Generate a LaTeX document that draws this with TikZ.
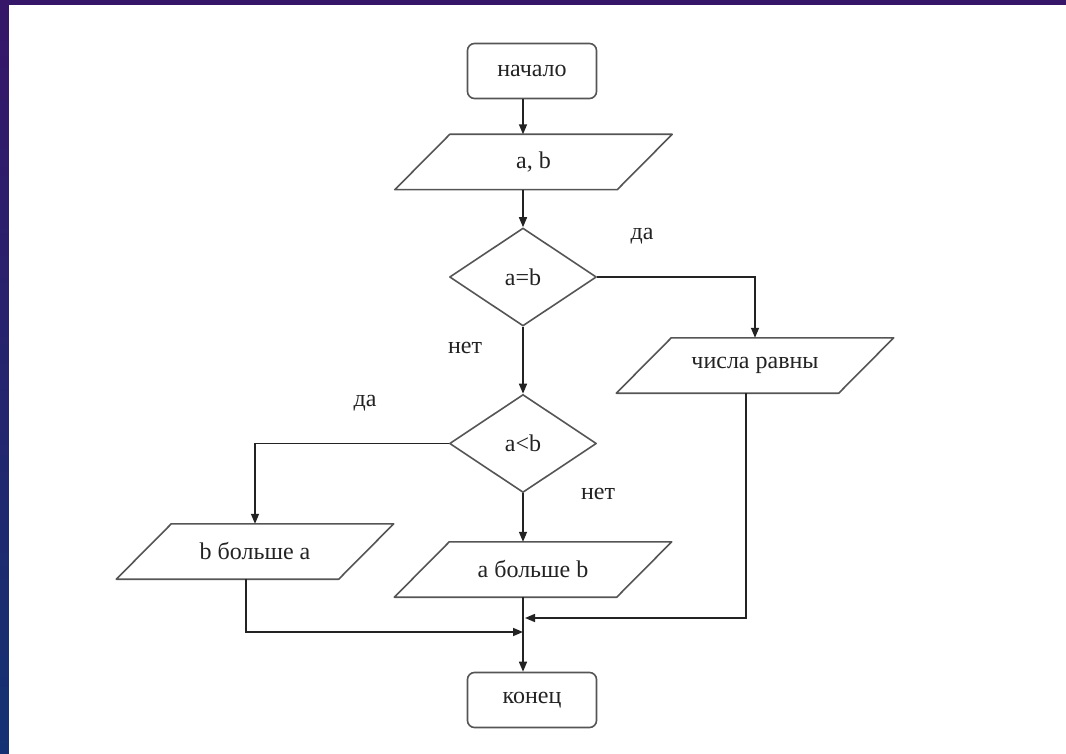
\documentclass[tikz,border=0pt]{standalone}
\usepackage{fontspec}
\setmainfont{Liberation Serif}
\usetikzlibrary{arrows.meta,shapes.geometric}

\definecolor{slidetop}{RGB}{54,22,104}
\definecolor{slidebottom}{RGB}{20,50,115}
\definecolor{ink}{RGB}{35,35,35}
\definecolor{rim}{RGB}{85,85,85}

% outline of an input/output block drawn around a named node
\newcommand{\ioframe}[1]{%
  \draw[frame] ([xshift=27.5pt]#1.north west) -- ([xshift=27.5pt]#1.north east)
    -- ([xshift=-27.5pt]#1.south east) -- ([xshift=-27.5pt]#1.south west) -- cycle;}

\begin{document}
\begin{tikzpicture}[x=1pt,y=-1pt,
  txt/.style={font=\fontsize{24}{28}\selectfont, text=ink},
  frame/.style={draw=rim, line width=1.6pt, line join=round},
  term/.style={txt, frame, rounded corners=7pt, minimum width=129pt,
    minimum height=55pt, inner sep=0pt},
  cond/.style={txt, diamond, frame, aspect=1.5, minimum width=147pt,
    minimum height=98pt, inner sep=0pt},
  io/.style={txt, minimum width=222pt, minimum height=55pt, inner sep=0pt},
  lbl/.style={txt},
  link/.style={draw=ink, line width=1.5pt},
  arr/.style={link, -{Triangle[length=10pt,width=8pt]}}]

% slide background
\fill[top color=slidetop, bottom color=slidebottom] (0,0) rectangle (1066,754);
\fill[white] (9,5) rectangle (1066,754);

% blocks
\node[term] (start) at (532,71) {начало};
\node[io] (ab) at (533.5,162) {a, b};
\ioframe{ab}
\node[cond] (d1) at (523,277) {a=b};
\node[io] (eq) at (755,365.5) {числа равны};
\ioframe{eq}
\node[cond] (d2) at (523,443.5) {a<b};
\node[io] (bga) at (255,551.5) {b больше a};
\ioframe{bga}
\node[io] (agb) at (533,569.5) {a больше b};
\ioframe{agb}
\node[term] (stop) at (532,700) {конец};

% branch labels
\node[lbl] (yes1) at (642,236) {да};
\node[lbl] (no1) at (465,348) {нет};
\node[lbl] (yes2) at (365,403) {да};
\node[lbl] (no2) at (598,494) {нет};

% junction points
\coordinate (eqdrop) at (746,393);
\coordinate (bgadrop) at (246,579);
\coordinate (j1) at (523,618);
\coordinate (j2) at (523,632);

% connectors
\draw[arr] (start.south -| d1) -- (ab.north -| d1);
\draw[arr] (ab.south -| d1) -- (d1.north);
\draw[arr] (d1.south) -- (d2.north);
\draw[arr] (d1.east) -| (eq.north);
\draw[arr] (d2.west) -| (bga.north);
\draw[arr] (d2.south) -- (agb.north -| d2);
\draw[arr] (agb.south -| d2) -- (stop.north -| d2);
\draw[arr] (eqdrop) |- ([xshift=2pt]j1);
\draw[arr] (bgadrop) |- (j2);
\end{tikzpicture}
\end{document}
